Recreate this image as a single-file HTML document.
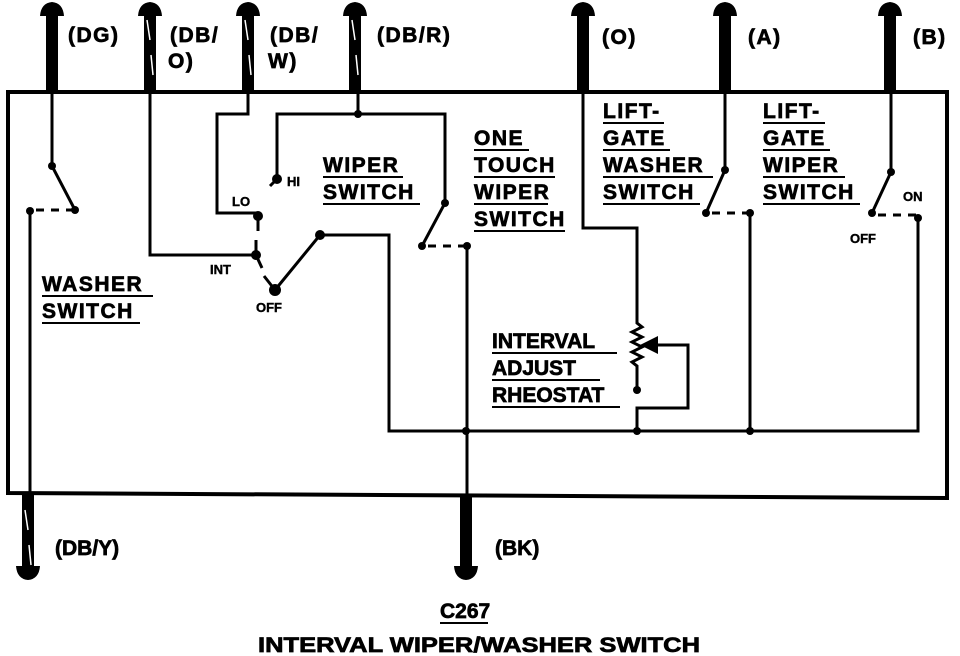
<!DOCTYPE html>
<html><head><meta charset="utf-8"><style>
html,body{margin:0;padding:0;background:#fff;}
svg{display:block;}
text{font-family:"Liberation Sans",sans-serif;font-weight:bold;fill:#000;}
.l{font-size:21px;letter-spacing:1.5px;stroke:#000;stroke-width:0.7px;}
.s{font-size:13px;stroke:#000;stroke-width:0.4px;}
</style></head><body>
<svg width="960" height="656" viewBox="0 0 960 656" xmlns="http://www.w3.org/2000/svg">
<g stroke="#000" fill="none" stroke-width="3">
<path d="M8,92 L947,92 L947,498 L8,493 Z" stroke-width="4"/>
<path d="M52,92 V166 L75,210"/>
<path d="M30,210 V493"/>
<path d="M36,210 H72" stroke-dasharray="8,7"/>
<path d="M150,92 V255 H256"/>
<path d="M248,92 V114 H217 V213 H258"/>
<path d="M358,92 V114"/>
<path d="M277,179 V114 H445 V203 L422,246"/>
<path d="M270,186 L276,180"/>
<path d="M258,216 V231"/>
<path d="M256,240 V255 L262,268"/>
<path d="M428,246 H467" stroke-dasharray="8,7"/>
<path d="M467,246 V498"/>
<path d="M275,290 L320,235 H389 V431 H918 V219"/>
<path d="M264,276 L275,290"/>
<path d="M583,92 V228 H637 V323 l5,4 l-10,5 l10,5 l-10,5 l10,5 l-10,5 l10,5 l-10,5 l5,4 V390"/>
<path d="M657,345 H688 V408 H637 V431"/>
<path d="M725,92 V170 L706,213"/>
<path d="M712,213 H750" stroke-dasharray="8,7"/>
<path d="M750,213 V431"/>
<path d="M891,92 V172 L872,213"/>
<path d="M878,215 H916" stroke-dasharray="8,7"/>
</g>
<polygon points="640,345 658,336 658,354" fill="#000"/>
<g fill="#000">
<circle cx="52" cy="166" r="4"/><circle cx="75" cy="210" r="4"/><circle cx="30" cy="211" r="4"/>
<circle cx="277" cy="179" r="5"/><circle cx="258" cy="216" r="5"/><circle cx="256" cy="255" r="5"/><circle cx="275" cy="290" r="6"/><circle cx="320" cy="235" r="5"/>
<circle cx="358" cy="114" r="4"/><circle cx="445" cy="203" r="4"/><circle cx="422" cy="246" r="4"/><circle cx="467" cy="246" r="4"/>
<circle cx="466" cy="431" r="4"/><circle cx="637" cy="431" r="4"/><circle cx="750" cy="431" r="4"/><circle cx="637" cy="390" r="4"/>
<circle cx="725" cy="170" r="4"/><circle cx="706" cy="213" r="4"/><circle cx="750" cy="213" r="4"/>
<circle cx="891" cy="172" r="4"/><circle cx="872" cy="213" r="4"/><circle cx="918" cy="218" r="4"/>
</g>
<g fill="#000">
<rect x="46" y="10" width="12" height="82"/><path d="M40,16 Q41,3 52,2 Q63,3 64,16 Z"/>
<rect x="144" y="10" width="12" height="82"/><path d="M138,16 Q139,3 150,2 Q161,3 162,16 Z"/>
<rect x="242" y="10" width="12" height="82"/><path d="M236,16 Q237,3 248,2 Q259,3 260,16 Z"/>
<rect x="349" y="10" width="12" height="82"/><path d="M343,16 Q344,3 355,2 Q366,3 367,16 Z"/>
<rect x="577" y="10" width="12" height="82"/><path d="M571,16 Q572,3 583,2 Q594,3 595,16 Z"/>
<rect x="719" y="10" width="12" height="82"/><path d="M713,16 Q714,3 725,2 Q736,3 737,16 Z"/>
<rect x="884" y="10" width="12" height="82"/><path d="M878,16 Q879,3 890,2 Q901,3 902,16 Z"/>
<rect x="22" y="495" width="12" height="75"/><path d="M16,566 Q17,579 28,580 Q39,579 40,566 Z"/>
<rect x="460" y="497" width="12" height="73"/><path d="M454,566 Q455,579 466,580 Q477,579 478,566 Z"/>
</g>
<g stroke="#fff" stroke-width="1.5">
<path d="M147,20 L150,40 M151,55 L153,75"/><path d="M245,20 L248,40 M249,55 L251,75"/><path d="M352,20 L355,40 M356,55 L358,75"/><path d="M25,510 L28,530 M29,545 L31,565"/>
</g>
<text class="l" x="68" y="42">(DG)</text>
<text class="l" x="170" y="42">(DB/</text><text class="l" x="168" y="68">O)</text>
<text class="l" x="270" y="42">(DB/</text><text class="l" x="268" y="68">W)</text>
<text class="l" x="377" y="42">(DB/R)</text>
<text class="l" x="602" y="44">(O)</text>
<text class="l" x="748" y="44">(A)</text>
<text class="l" x="913" y="44">(B)</text>
<text class="l" x="55" y="555" style="letter-spacing:0">(DB/Y)</text>
<text class="l" x="495" y="555" style="letter-spacing:0">(BK)</text>
<g>
<text class="l" x="42" y="291">WASHER</text><text class="l" x="42" y="318">SWITCH</text>
<text class="l" x="323" y="172">WIPER</text><text class="l" x="323" y="199">SWITCH</text>
<text class="l" x="474" y="145">ONE</text><text class="l" x="474" y="172">TOUCH</text><text class="l" x="474" y="199">WIPER</text><text class="l" x="474" y="226">SWITCH</text>
<text class="l" x="603" y="118">LIFT-</text><text class="l" x="603" y="145">GATE</text><text class="l" x="603" y="172">WASHER</text><text class="l" x="603" y="199">SWITCH</text>
<text class="l" x="763" y="118">LIFT-</text><text class="l" x="763" y="145">GATE</text><text class="l" x="763" y="172">WIPER</text><text class="l" x="763" y="199">SWITCH</text>
<text class="l" x="492" y="348" style="letter-spacing:0">INTERVAL</text><text class="l" x="492" y="375" style="letter-spacing:0">ADJUST</text><text class="l" x="492" y="402" style="letter-spacing:0">RHEOSTAT</text>
<text class="l" x="440" y="618" style="letter-spacing:0">C267</text>
<text class="l" x="258" y="652" textLength="442" lengthAdjust="spacingAndGlyphs" style="letter-spacing:0">INTERVAL WIPER/WASHER SWITCH</text>
</g>
<g stroke="#000" stroke-width="2">
<path d="M42,296 H153 M42,323 H140"/>
<path d="M323,177 H403 M323,204 H420"/>
<path d="M474,150 H529 M474,177 H555 M474,204 H548 M474,231 H565"/>
<path d="M603,123 H664 M603,150 H670 M603,177 H713 M603,204 H700"/>
<path d="M763,123 H825 M763,150 H830 M763,177 H845 M763,204 H860"/>
<path d="M492,353 H617 M492,380 H600 M492,407 H620"/>
<path d="M440,623 H488"/>
</g>
<g>
<text class="s" x="287" y="186">HI</text><text class="s" x="232" y="206">LO</text><text class="s" x="210" y="274">INT</text><text class="s" x="256" y="312">OFF</text>
<text class="s" x="903" y="201">ON</text><text class="s" x="850" y="243">OFF</text>
</g>
</svg>
</body></html>
